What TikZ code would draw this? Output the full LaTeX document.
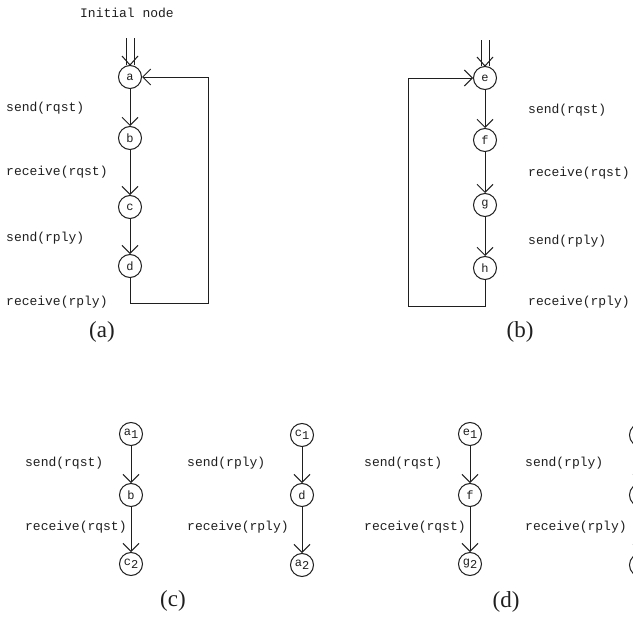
\documentclass[tikz,border=0pt]{standalone}
\usepackage{fontspec}
\setmonofont{Liberation Mono}
\newfontfamily\capfont{Liberation Serif}
\usetikzlibrary{arrows.meta}
\definecolor{ink}{gray}{0.12}
\begin{document}
\begin{tikzpicture}[x=1pt,y=-1pt,
  st/.style={circle,draw=ink,line width=1pt,minimum size=23pt,inner sep=0pt,
             text=ink,font=\fontsize{12}{12}\ttfamily},
  lbl/.style={anchor=west,inner sep=0pt,text=ink,font=\fontsize{13}{13}\ttfamily},
  figlabel/.style={inner sep=0pt,text=ink,font=\fontsize{23}{23}\capfont},
  arr/.style={draw=ink,line width=1pt,-{Straight Barb[length=8pt,width=16pt]}},
  wire/.style={draw=ink,line width=1pt},
]
\useasboundingbox (0,0) rectangle (633,621);
\clip (0,0) rectangle (633,621);
\fill[white] (0,0) rectangle (633,621);

% subscripted state names
\newcommand{\sub}[2]{#1\raisebox{-3.5pt}{#2}}

% ---------- (a) ----------
\node[lbl] at (80,13) {Initial node};
\node[st] (a) at (130,77) {a};
\node[st] (b) at (130,138) {b};
\node[st] (c) at (130,207) {c};
\node[st] (d) at (130,266) {d};
\coordinate (ia) at (130,38);
\coordinate (lpa) at (208,303);
\draw[wire] ([xshift=-4pt]ia) -- ([xshift=-4pt]a.north);
\draw[wire] ([xshift=4pt]ia) -- ([xshift=4pt]a.north);
\draw[wire] ([shift={(-8,-9)}]a.north) -- (a.north) -- ([shift={(8,-9)}]a.north);
\draw[arr] (a) -- (b);
\draw[arr] (b) -- (c);
\draw[arr] (c) -- (d);
\draw[arr] (d.south) |- (lpa) |- (a.east);
\node[lbl] at (6,108) {send(rqst)};
\node[lbl] at (6,172) {receive(rqst)};
\node[lbl] at (6,238) {send(rply)};
\node[lbl] at (6,302) {receive(rply)};
\node[figlabel] at (102,332) {(a)};

% ---------- (b) ----------
\node[st] (e) at (485,78) {e};
\node[st] (f) at (485,140) {f};
\node[st] (g) at (485,205) {g};
\node[st] (h) at (485,268) {h};
\coordinate (ie) at (485,40);
\coordinate (lpb) at (408,306);
\draw[wire] ([xshift=-4pt]ie) -- ([xshift=-4pt]e.north);
\draw[wire] ([xshift=4pt]ie) -- ([xshift=4pt]e.north);
\draw[wire] ([shift={(-8,-9)}]e.north) -- (e.north) -- ([shift={(8,-9)}]e.north);
\draw[arr] (e) -- (f);
\draw[arr] (f) -- (g);
\draw[arr] (g) -- (h);
\draw[arr] (h.south) |- (lpb) |- (e.west);
\node[lbl] at (528,110) {send(rqst)};
\node[lbl] at (528,173) {receive(rqst)};
\node[lbl] at (528,241) {send(rply)};
\node[lbl] at (528,302) {receive(rply)};
\node[figlabel] at (520,332) {(b)};

% ---------- (c) ----------
\node[st] (a1) at (131,434) {\sub{a}{1}};
\node[st] (bc) at (131,495) {b};
\node[st] (c2) at (131,564) {\sub{c}{2}};
\draw[arr] (a1) -- (bc);
\draw[arr] (bc) -- (c2);
\node[lbl] at (25,463) {send(rqst)};
\node[lbl] at (25,527) {receive(rqst)};

\node[st] (c1) at (302,435) {\sub{c}{1}};
\node[st] (dc) at (302,495) {d};
\node[st] (a2) at (302,565) {\sub{a}{2}};
\draw[arr] (c1) -- (dc);
\draw[arr] (dc) -- (a2);
\node[lbl] at (187,463) {send(rply)};
\node[lbl] at (187,527) {receive(rply)};
\node[figlabel] at (173,601) {(c)};

% ---------- (d) ----------
\node[st] (e1) at (470,434) {\sub{e}{1}};
\node[st] (fd) at (470,495) {f};
\node[st] (g2) at (470,564) {\sub{g}{2}};
\draw[arr] (e1) -- (fd);
\draw[arr] (fd) -- (g2);
\node[lbl] at (364,463) {send(rqst)};
\node[lbl] at (364,527) {receive(rqst)};

% second chain of (d), running past the right edge
\node[st] (g1) at (641,435) {};
\node[st] (hd) at (641,495) {};
\node[st] (e2) at (641,565) {};
\draw[arr] (g1) -- (hd);
\draw[arr] (hd) -- (e2);
\node[lbl] at (525,463) {send(rply)};
\node[lbl] at (525,527) {receive(rply)};
\node[figlabel] at (506,602) {(d)};
\end{tikzpicture}
\end{document}
